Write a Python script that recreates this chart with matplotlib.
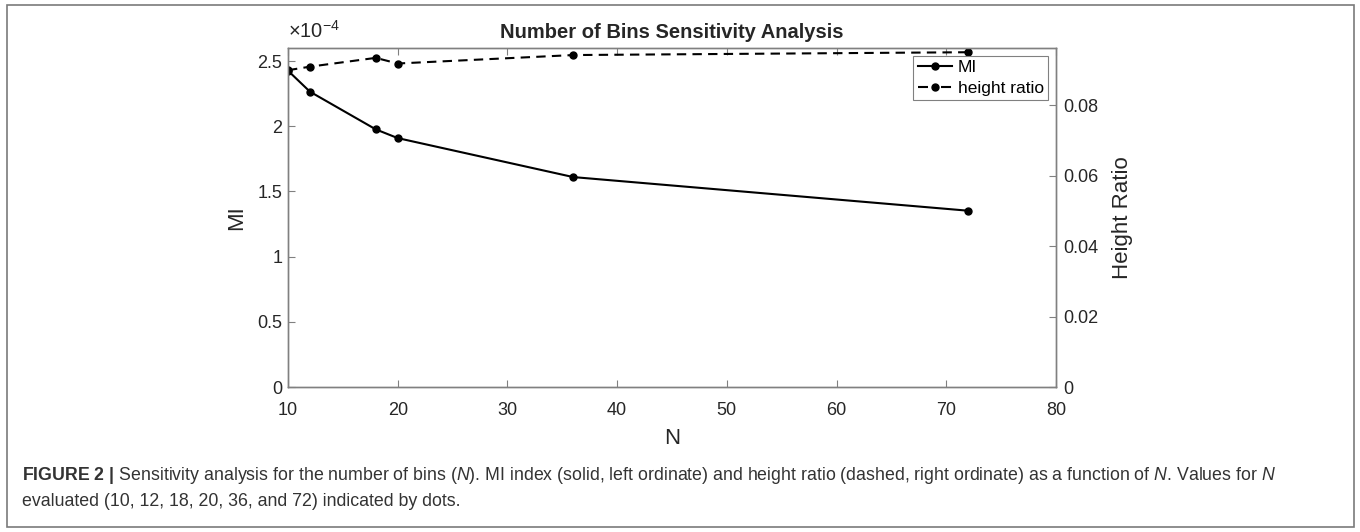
import matplotlib.pyplot as plt
from matplotlib.ticker import FuncFormatter
from matplotlib.patches import Rectangle
from matplotlib.lines import Line2D

plt.rcParams['font.family'] = ['Liberation Sans', 'DejaVu Sans']
plt.rcParams['mathtext.fontset'] = 'custom'
plt.rcParams['mathtext.rm'] = 'Liberation Sans'
plt.rcParams['mathtext.it'] = 'Liberation Sans:italic'
plt.rcParams['mathtext.bf'] = 'Liberation Sans:bold'

# dados
n_bins = [10, 12, 18, 20, 36, 72]
mi = [2.426e-4, 2.265e-4, 1.976e-4, 1.909e-4, 1.61e-4, 1.352e-4]
height_ratio = [0.0899, 0.0909, 0.0934, 0.0918, 0.0942, 0.0950]

mi_ticks = [0, 0.5e-4, 1e-4, 1.5e-4, 2e-4, 2.5e-4]
hr_ticks = [0, 0.02, 0.04, 0.06, 0.08]
n_ticks = [10, 20, 30, 40, 50, 60, 70, 80]

cinza = '#808080'
texto = '#262626'

fig = plt.figure(figsize=(13.6, 5.32), dpi=100)
ax1 = fig.add_axes([288/1360, 1 - 387/532, 768/1360, 339/532])
ax2 = ax1.twinx()

ax1.plot(n_bins, mi, '-', color='black', lw=1.5, marker='o', ms=5)
ax2.plot(n_bins, height_ratio, '--', color='black', lw=1.5, marker='o', ms=5, dashes=(4.5, 3))

ax1.set_xlim(10, 80)
ax1.set_ylim(0, 2.6e-4)
ax2.set_ylim(0, 0.0962)
ax1.set_xticks(n_ticks)
ax1.set_yticks(mi_ticks)
ax2.set_yticks(hr_ticks)
ax1.yaxis.set_major_formatter(FuncFormatter(lambda v, p: f'{v/1e-4:g}'))
ax2.yaxis.set_major_formatter(FuncFormatter(lambda v, p: f'{v:g}'))

for ax in (ax1, ax2):
    for s in ax.spines.values():
        s.set_color(cinza)
        s.set_linewidth(1)
ax1.tick_params(direction='in', length=5, width=0.8, color=cinza, labelcolor=texto,
                labelsize=13, top=True, right=False)
ax1.tick_params(axis='x', pad=10.5)
ax1.tick_params(axis='y', pad=4)
ax2.tick_params(direction='in', length=5, width=0.8, color=cinza, labelcolor=texto,
                labelsize=13, right=True, pad=5)

ax1.set_xlabel('N', fontsize=16, color=texto)
ax1.set_ylabel('MI', fontsize=16, color=texto)
ax2.set_ylabel('Height Ratio', fontsize=16, color=texto)
ax1.xaxis.set_label_coords(0.5, -0.121)
ax1.yaxis.set_label_coords(-0.0533, 0.5)
ax2.yaxis.set_label_coords(1.0728, 0.5)

ax1.text(0.5, 1.047, 'Number of Bins Sensitivity Analysis', transform=ax1.transAxes,
         ha='center', va='center', fontsize=14.5, fontweight='bold', color=texto)
ax1.text(0.0, 1.05, '×10$^{-4}$', transform=ax1.transAxes,
         ha='left', va='center', fontsize=14.5, color=texto)

# handles da legenda com o ponto entre os tracos
h1 = Line2D([], [], color='black', lw=1.5, marker='o', ms=5)
h2 = Line2D([], [], color='black', lw=1.5, marker='o', ms=5, ls='--', dashes=(4.8, 6.25))
leg = ax2.legend(handles=[h1, h2], labels=['MI', 'height ratio'], loc='upper right',
                 bbox_to_anchor=(1048/1360, 1 - 56/532), bbox_transform=fig.transFigure,
                 borderaxespad=0, fontsize=12.5, fancybox=False, framealpha=1,
                 edgecolor=cinza, handlelength=2.0, handletextpad=0.3,
                 borderpad=0.25, labelspacing=0.3)
leg.get_frame().set_linewidth(0.8)

legenda = (r'$\mathbf{FIGURE\ 2\ |}$ Sensitivity analysis for the number of bins ($N$). '
           r'MI index (solid, left ordinate) and height ratio (dashed, right ordinate) '
           r'as a function of $N$. Values for $N$')
t1 = fig.text(22/1360, 1 - 476/532, legenda, fontsize=10.5, color='#333333',
              va='center', ha='left')
t2 = fig.text(22/1360, 1 - 502/532, 'evaluated (10, 12, 18, 20, 36, and 72) indicated by dots.',
              fontsize=10.5, color='#333333', va='center', ha='left')

# ajusta o tamanho da legenda para a linha terminar perto de x=1282
fig.canvas.draw()
largura = t1.get_window_extent(fig.canvas.get_renderer()).width
tam = 10.5 * (1282 - 22) / largura
t1.set_fontsize(tam)
t2.set_fontsize(tam)

fig.patches.append(Rectangle((7/1360, 5/532), 1347/1360, 522/532, transform=fig.transFigure,
                             fill=False, edgecolor='#7a7a7a', lw=1.2))

fig.savefig('out.png', dpi=100)
